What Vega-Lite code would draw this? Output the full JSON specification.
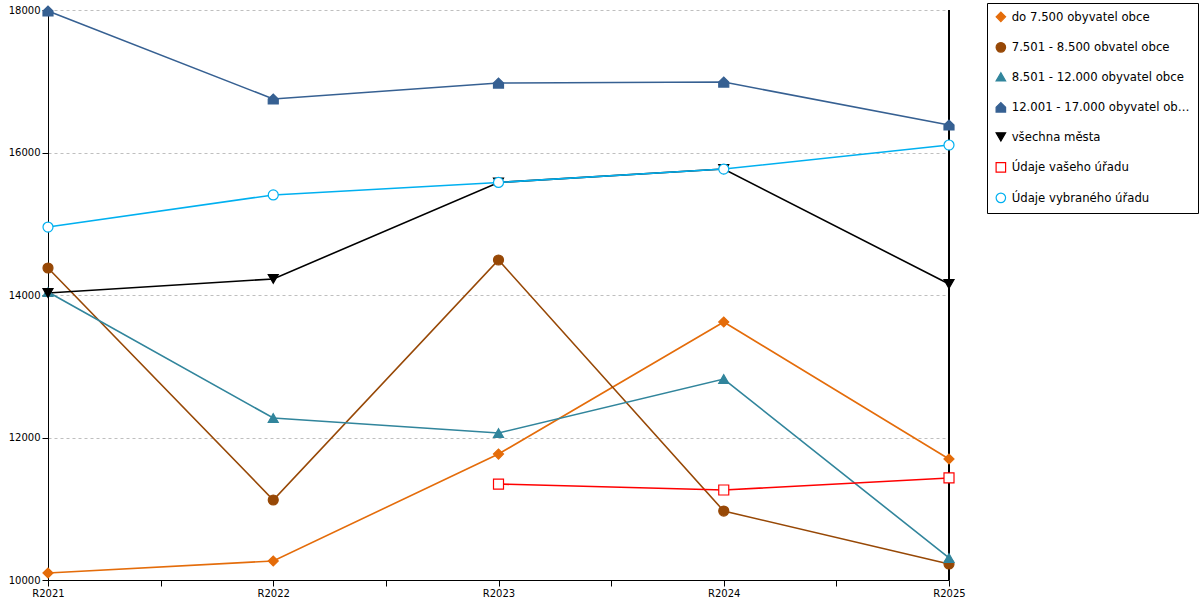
{
  "$schema": "https://vega.github.io/schema/vega-lite/v6.json",
  "width": 901,
  "height": 570,
  "autosize": {"type": "none"},
  "padding": {"left": 48, "top": 10, "right": 251, "bottom": 20},
  "background": "white",
  "data": {
    "values": [
      {"rok": 2021, "skupina": "do 7.500 obyvatel obce", "hodnota": 10098},
      {"rok": 2022, "skupina": "do 7.500 obyvatel obce", "hodnota": 10267},
      {"rok": 2023, "skupina": "do 7.500 obyvatel obce", "hodnota": 11768},
      {"rok": 2024, "skupina": "do 7.500 obyvatel obce", "hodnota": 13621},
      {"rok": 2025, "skupina": "do 7.500 obyvatel obce", "hodnota": 11698},
      {"rok": 2021, "skupina": "7.501 - 8.500 obvatel obce", "hodnota": 14379},
      {"rok": 2022, "skupina": "7.501 - 8.500 obvatel obce", "hodnota": 11123},
      {"rok": 2023, "skupina": "7.501 - 8.500 obvatel obce", "hodnota": 14491},
      {"rok": 2024, "skupina": "7.501 - 8.500 obvatel obce", "hodnota": 10968},
      {"rok": 2025, "skupina": "7.501 - 8.500 obvatel obce", "hodnota": 10225},
      {"rok": 2021, "skupina": "8.501 - 12.000 obyvatel obce", "hodnota": 14042},
      {"rok": 2022, "skupina": "8.501 - 12.000 obyvatel obce", "hodnota": 12274},
      {"rok": 2023, "skupina": "8.501 - 12.000 obyvatel obce", "hodnota": 12063},
      {"rok": 2024, "skupina": "8.501 - 12.000 obyvatel obce", "hodnota": 12821},
      {"rok": 2025, "skupina": "8.501 - 12.000 obyvatel obce", "hodnota": 10309},
      {"rok": 2021, "skupina": "12.001 - 17.000 obyvatel obce", "hodnota": 17986},
      {"rok": 2022, "skupina": "12.001 - 17.000 obyvatel obce", "hodnota": 16751},
      {"rok": 2023, "skupina": "12.001 - 17.000 obyvatel obce", "hodnota": 16975},
      {"rok": 2024, "skupina": "12.001 - 17.000 obyvatel obce", "hodnota": 16989},
      {"rok": 2025, "skupina": "12.001 - 17.000 obyvatel obce", "hodnota": 16386},
      {"rok": 2021, "skupina": "všechna města", "hodnota": 14028},
      {"rok": 2022, "skupina": "všechna města", "hodnota": 14225},
      {"rok": 2023, "skupina": "všechna města", "hodnota": 15580},
      {"rok": 2024, "skupina": "všechna města", "hodnota": 15768},
      {"rok": 2025, "skupina": "všechna města", "hodnota": 14154},
      {"rok": 2023, "skupina": "Údaje vašeho úřadu", "hodnota": 11347},
      {"rok": 2024, "skupina": "Údaje vašeho úřadu", "hodnota": 11263},
      {"rok": 2025, "skupina": "Údaje vašeho úřadu", "hodnota": 11432},
      {"rok": 2021, "skupina": "Údaje vybraného úřadu", "hodnota": 14954},
      {"rok": 2022, "skupina": "Údaje vybraného úřadu", "hodnota": 15404},
      {"rok": 2023, "skupina": "Údaje vybraného úřadu", "hodnota": 15580},
      {"rok": 2024, "skupina": "Údaje vybraného úřadu", "hodnota": 15768},
      {"rok": 2025, "skupina": "Údaje vybraného úřadu", "hodnota": 16105}
    ]
  },
  "layer": [
    {
      "mark": {"type": "line", "strokeWidth": 1.6},
      "encoding": {
        "x": {
          "field": "rok", "type": "quantitative",
          "scale": {"domain": [2021, 2025], "nice": false, "zero": false},
          "axis": {
            "title": null, "grid": false,
            "values": [2021, 2021.5, 2022, 2022.5, 2023, 2023.5, 2024, 2024.5, 2025],
            "labelExpr": "datum.value % 1 == 0 ? 'R' + datum.value : ''",
            "tickSize": 6, "labelPadding": 2, "labelFlush": false
          }
        },
        "y": {
          "field": "hodnota", "type": "quantitative",
          "scale": {"domain": [10000, 18000], "nice": false, "zero": false},
          "axis": {
            "title": null, "values": [10000, 12000, 14000, 16000, 18000], "format": "d",
            "tickSize": 6, "labelPadding": 2,
            "grid": true, "gridDash": [3, 3], "gridColor": "#bfbfbf"
          }
        },
        "detail": {"field": "skupina", "type": "nominal"},
        "stroke": {
          "field": "skupina", "type": "nominal", "title": null,
          "scale": {
            "domain": ["do 7.500 obyvatel obce", "7.501 - 8.500 obvatel obce", "8.501 - 12.000 obyvatel obce", "12.001 - 17.000 obyvatel obce", "všechna města", "Údaje vašeho úřadu", "Údaje vybraného úřadu"],
            "range": ["#e46c0a", "#974806", "#31859c", "#366092", "#000000", "#ff0000", "#00b0f0"]
          },
          "legend": {"orient": "none", "legendX": 939, "legendY": -7}
        }
      }
    },
    {
      "mark": {"type": "rule", "color": "#000", "strokeWidth": 1},
      "encoding": {"x": {"datum": 2025}}
    },
    {
      "mark": {"type": "point", "opacity": 1, "strokeWidth": 1.2},
      "encoding": {
        "x": {"field": "rok", "type": "quantitative"},
        "y": {"field": "hodnota", "type": "quantitative"},
        "stroke": {"field": "skupina", "type": "nominal", "title": null},
        "fill": {
          "field": "skupina", "type": "nominal", "title": null,
          "scale": {
            "domain": ["do 7.500 obyvatel obce", "7.501 - 8.500 obvatel obce", "8.501 - 12.000 obyvatel obce", "12.001 - 17.000 obyvatel obce", "všechna města", "Údaje vašeho úřadu", "Údaje vybraného úřadu"],
            "range": ["#e46c0a", "#974806", "#31859c", "#366092", "#000000", "#ffffff", "#ffffff"]
          }
        },
        "shape": {
          "field": "skupina", "type": "nominal", "title": null,
          "scale": {
            "domain": ["do 7.500 obyvatel obce", "7.501 - 8.500 obvatel obce", "8.501 - 12.000 obyvatel obce", "12.001 - 17.000 obyvatel obce", "všechna města", "Údaje vašeho úřadu", "Údaje vybraného úřadu"],
            "range": ["diamond", "circle", "triangle-up", "M -1 1 L -1 0 L 0 -1 L 1 0 L 1 1 Z", "triangle-down", "square", "circle"]
          }
        },
        "size": {"value": 100}
      }
    }
  ],
  "config": {
    "view": {"stroke": null},
    "font": "DejaVu Sans",
    "axis": {"labelFont": "DejaVu Sans", "labelFontSize": 10, "labelColor": "#000", "domainColor": "#000", "tickColor": "#000"},
    "legend": {
      "strokeColor": "#000",
      "fillColor": "#ffffff",
      "padding": 8,
      "rowPadding": 15.5,
      "symbolSize": 90,
      "symbolStrokeWidth": 1.2,
      "labelFont": "DejaVu Sans",
      "labelFontSize": 11.7,
      "labelColor": "#000",
      "labelLimit": 178,
      "labelOffset": 5
    }
  }
}
